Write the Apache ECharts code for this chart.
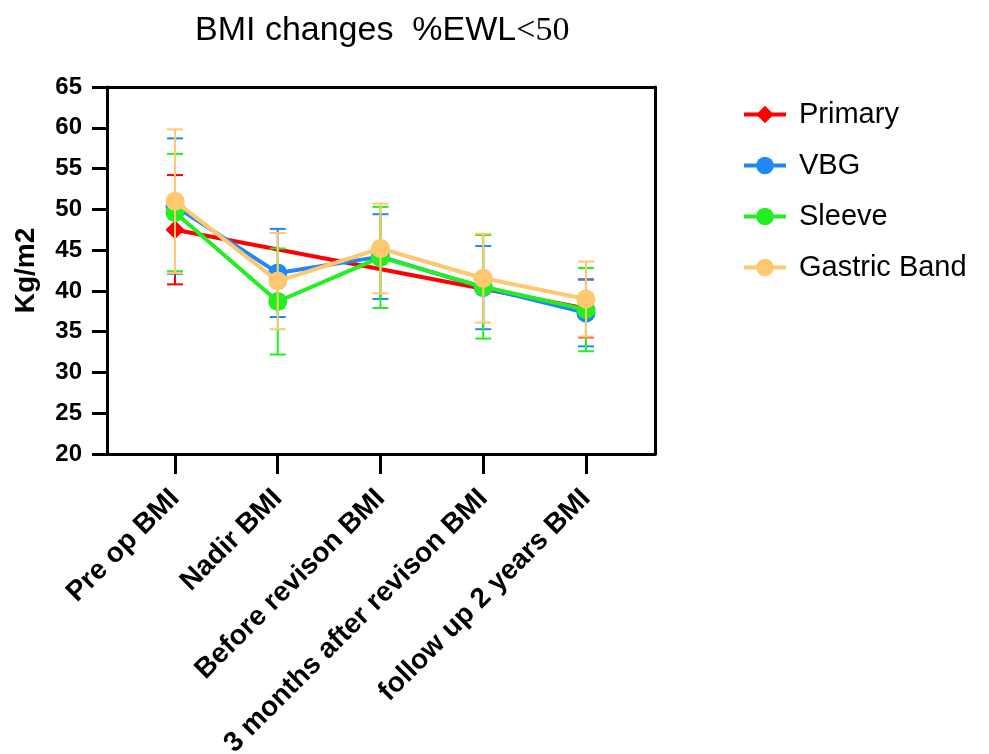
<!DOCTYPE html>
<html>
<head>
<meta charset="utf-8">
<title>BMI changes</title>
<script src="https://cdn.jsdelivr.net/npm/echarts@6/dist/echarts.min.js"></script>
<style>
  html, body { margin: 0; padding: 0; background: #fff; }
  #main { width: 989px; height: 754px; }
</style>
</head>
<body>
<div id="main"></div>
<script type="text/javascript">
// categories along x
var cats = ['Pre op BMI', 'Nadir BMI', 'Before revison BMI', '3 months after revison BMI', 'follow up 2 years BMI'];
var yTicks = [20, 25, 30, 35, 40, 45, 50, 55, 60, 65];

// means (Kg/m2), null = not measured
var primaryMean = [47.5, null, null, null, 37.85];
var vbgMean     = [50.4, 42.2, 44.2, 40.4, 37.3];
var sleeveMean  = [49.6, 38.7, 44.1, 40.5, 37.7];
var bandMean    = [51.0, 41.2, 45.2, 41.55, 39.0];

// error bar half widths (SD)
var primarySd = [6.7, null, null, null, 3.55];
var vbgSd     = [8.3, 5.4, 5.2, 5.1, 4.1];
var sleeveSd  = [7.2, 6.5, 6.2, 6.35, 5.1];
var bandSd    = [8.8, 5.9, 5.5, 5.45, 4.6];

var font = 'Liberation Sans, Arial, sans-serif';
var groups = [
  { name: 'Primary',      mean: primaryMean, sd: primarySd, color: '#FF0000', symbol: 'diamond' },
  { name: 'VBG',          mean: vbgMean,     sd: vbgSd,     color: '#1E88F8', symbol: 'circle' },
  { name: 'Sleeve',       mean: sleeveMean,  sd: sleeveSd,  color: '#22EE22', symbol: 'circle' },
  { name: 'Gastric Band', mean: bandMean,    sd: bandSd,    color: '#FFC870', symbol: 'circle' }
];

function errBar(color) {
  return function (params, api) {
    var lo = api.coord([api.value(0), api.value(1)]);
    var hi = api.coord([api.value(0), api.value(2)]);
    var hw = 8;
    var st = { stroke: color, lineWidth: 2 };
    return {
      type: 'group',
      children: [
        { type: 'line', shape: { x1: lo[0], y1: lo[1], x2: hi[0], y2: hi[1] }, style: st },
        { type: 'line', shape: { x1: lo[0] - hw, y1: lo[1], x2: lo[0] + hw, y2: lo[1] }, style: st },
        { type: 'line', shape: { x1: hi[0] - hw, y1: hi[1], x2: hi[0] + hw, y2: hi[1] }, style: st }
      ]
    };
  };
}

var series = [];
groups.forEach(function (g, k) {
  var pts = [], bars = [];
  for (var i = 0; i < cats.length; i++) {
    if (g.mean[i] == null) continue;
    pts.push([i, g.mean[i]]);
    bars.push([i, g.mean[i] - g.sd[i], g.mean[i] + g.sd[i]]);
  }
  series.push({
    name: g.name,
    type: 'line',
    data: pts,
    connectNulls: true,
    symbol: g.symbol,
    symbolSize: 19,
    showAllSymbol: true,
    z: 2 + k * 2,
    itemStyle: { color: g.color },
    lineStyle: { color: g.color, width: 4 }
  });
  series.push({
    name: g.name + ' err',
    type: 'custom',
    data: bars,
    z: 3 + k * 2,
    encode: { x: 0, y: [1, 2] },
    renderItem: errBar(g.color)
  });
});

var myChart = echarts.init(document.getElementById('main'));
var option = {
  animation: false,
  backgroundColor: '#fff',
  title: {
    text: '{a|BMI changes  %EWL}{b|<50}',
    left: 190,
    top: 9,
    textStyle: {
      rich: {
        a: { fontFamily: font, fontWeight: 'normal', fontSize: 34, color: '#000' },
        b: { fontFamily: 'Liberation Serif, Times New Roman, serif', fontWeight: 'normal', fontSize: 34, color: '#000' }
      }
    }
  },
  legend: {
    data: ['Primary', 'VBG', 'Sleeve', 'Gastric Band'],
    orient: 'vertical',
    left: 737,
    top: 95,
    itemWidth: 42,
    itemHeight: 22,
    itemGap: 22,
    lineStyle: { width: 4 },
    textStyle: { fontFamily: font, fontSize: 29, color: '#000', padding: [0, 0, 0, 8] }
  },
  grid: { left: 107, right: 334, top: 87, bottom: 300, containLabel: false, outerBoundsMode: 'none' },
  xAxis: [
    {
      type: 'value',
      min: -0.662,
      max: 4.672,
      splitLine: { show: false },
      axisLine: { show: true, onZero: false, lineStyle: { color: '#000', width: 3 } },
      axisTick: { show: true, length: 20, customValues: [0, 1, 2, 3, 4], lineStyle: { color: '#000', width: 3 } },
      axisLabel: {
        customValues: [0, 1, 2, 3, 4],
        rotate: 45,
        margin: 40,
        fontFamily: font,
        fontWeight: 'bold',
        fontSize: 28,
        color: '#000',
        formatter: function (v) { return cats[Math.round(v)]; }
      }
    },
    {
      type: 'value',
      position: 'top',
      min: -0.662,
      max: 4.672,
      splitLine: { show: false },
      axisLine: { show: true, onZero: false, lineStyle: { color: '#000', width: 3 } },
      axisTick: { show: false },
      axisLabel: { show: false }
    }
  ],
  yAxis: [
    {
      type: 'value',
      min: 20,
      max: 65,
      interval: 5,
      name: 'Kg/m2',
      nameLocation: 'middle',
      nameGap: 67,
      nameRotate: 90,
      nameTextStyle: { fontFamily: font, fontWeight: 'bold', fontSize: 28, color: '#000' },
      splitLine: { show: false },
      axisLine: { show: true, onZero: false, lineStyle: { color: '#000', width: 3 } },
      axisTick: { show: true, length: 15, lineStyle: { color: '#000', width: 3 } },
      axisLabel: {
        margin: 25,
        fontFamily: font,
        fontWeight: 'bold',
        fontSize: 24,
        color: '#000',
        formatter: function (v) { return yTicks.indexOf(v) >= 0 ? String(v) : ''; }
      }
    },
    {
      type: 'value',
      position: 'right',
      min: 20,
      max: 65,
      splitLine: { show: false },
      axisLine: { show: true, onZero: false, lineStyle: { color: '#000', width: 3 } },
      axisTick: { show: false },
      axisLabel: { show: false }
    }
  ],
  series: series
};
myChart.setOption(option);
</script>
</body>
</html>
